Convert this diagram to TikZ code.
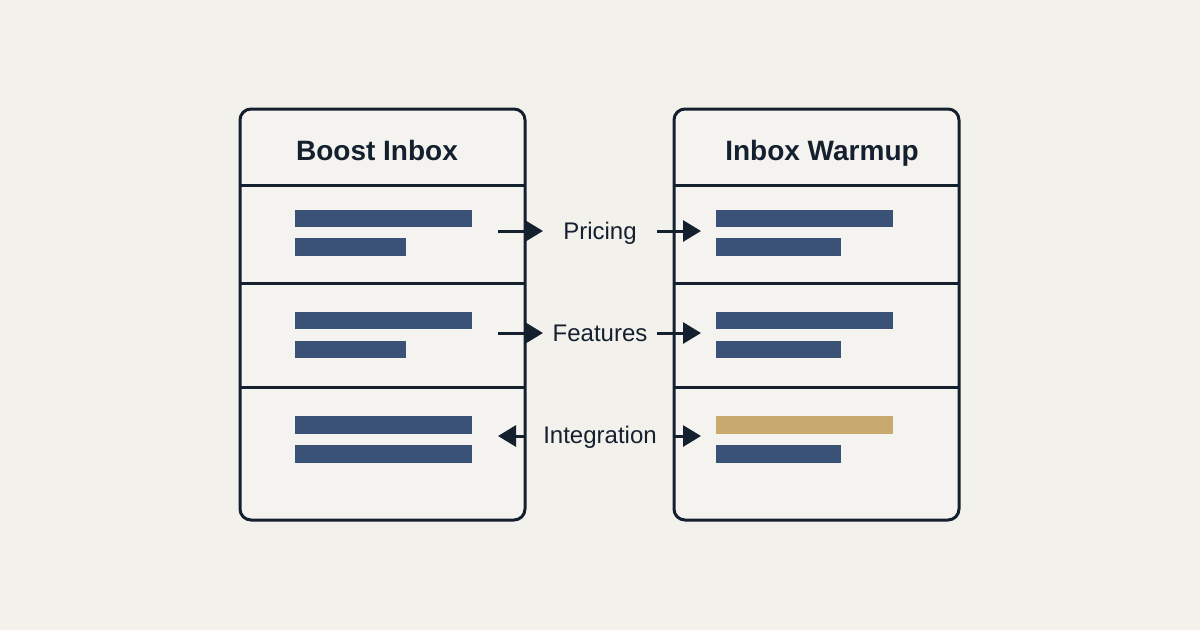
\documentclass[tikz,border=0pt]{standalone}
\usepackage{fontspec}
\setmainfont{Liberation Sans}
\usetikzlibrary{arrows.meta}
\definecolor{bg}{HTML}{F3F1EC}
\definecolor{panelbg}{HTML}{F5F3EF}
\definecolor{ink}{HTML}{15202F}
\definecolor{barblue}{HTML}{3B5277}
\definecolor{bargold}{HTML}{C8AA6E}
\tikzset{
  panel/.style={draw=ink, line width=3pt, fill=panelbg, rounded corners=11pt},
  divider/.style={draw=ink, line width=3pt},
  bar/.style={fill=barblue, draw=none},
  goldbar/.style={fill=bargold, draw=none},
  title/.style={font=\fontsize{28}{32}\selectfont\bfseries, text=ink, anchor=base, inner sep=0pt},
  lbl/.style={font=\fontsize{24}{28}\selectfont, text=ink, inner sep=0pt, anchor=base},
  conn/.style={draw=ink, line width=3pt, -{Triangle[length=18pt,width=21pt]}},
}
\begin{document}
\begin{tikzpicture}[x=1pt,y=-1pt]
\fill[bg] (0,0) rectangle (1200,630);
\useasboundingbox (0,0) rectangle (1200,630);
% panels
\path[panel] (240,109) rectangle (525,520);
\path[panel] (674,109) rectangle (959,520);
\foreach \yy in {185,283,387}{
  \draw[divider] (240,\yy) -- (525,\yy);
  \draw[divider] (674,\yy) -- (959,\yy);
}
\node[title] (t1) at (377,160) {Boost Inbox};
\node[title] (t2) at (822,160) {Inbox Warmup};
% left bars
\fill[bar] (295,210) rectangle (472,227);
\fill[bar] (295,238) rectangle (406,256);
\fill[bar] (295,312) rectangle (472,329);
\fill[bar] (295,341) rectangle (406,358);
\fill[bar] (295,416) rectangle (472,434);
\fill[bar] (295,445) rectangle (472,463);
% right bars
\fill[bar] (716,210) rectangle (893,227);
\fill[bar] (716,238) rectangle (841,256);
\fill[bar] (716,312) rectangle (893,329);
\fill[bar] (716,341) rectangle (841,358);
\fill[goldbar] (716,416) rectangle (893,434);
\fill[bar] (716,445) rectangle (841,463);
% labels
\node[lbl] (p) at (600,239) {Pricing};
\node[lbl] (f) at (600,341) {Features};
\node[lbl] (i) at (600,443) {Integration};
% connector coordinates
\coordinate (pa) at (498,231); \coordinate (pb) at (543,231);
\coordinate (pc) at (657,231); \coordinate (pd) at (701,231);
\coordinate (fa) at (498,333); \coordinate (fb) at (543,333);
\coordinate (fc) at (657,333); \coordinate (fd) at (701,333);
\coordinate (ia) at (526,436); \coordinate (ib) at (498,436);
\coordinate (ic) at (674,436); \coordinate (id) at (701,436);
\draw[conn] (pa) -- (pb);
\draw[conn] (pc) -- (pd);
\draw[conn] (fa) -- (fb);
\draw[conn] (fc) -- (fd);
\draw[conn] (ia) -- (ib);
\draw[conn] (ic) -- (id);
\end{tikzpicture}
\end{document}
